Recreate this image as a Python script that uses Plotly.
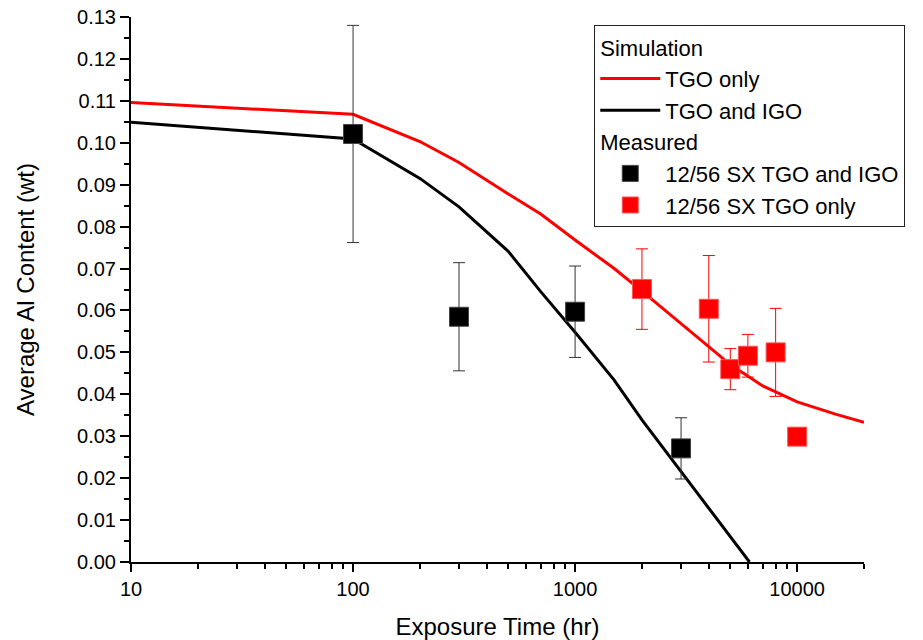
import plotly.graph_objects as go

# Simulated average Al content vs exposure time
sim_time_tgo = [10, 100, 200, 300, 500, 700, 1000, 1500, 2000, 3000, 4000, 5000, 7000, 10000, 15000, 20000]
sim_tgo_only = [0.1096, 0.1068, 0.1003, 0.0953, 0.0878, 0.0830, 0.0768, 0.0700, 0.0646, 0.0568,
                0.0513, 0.0471, 0.0420, 0.0382, 0.0352, 0.0333]

sim_time_igo = [10, 100, 200, 300, 500, 700, 1000, 1500, 2000, 3000, 4000, 5000, 6100]
sim_tgo_igo = [0.1049, 0.1009, 0.0915, 0.0847, 0.0741, 0.0645, 0.0548, 0.0434, 0.0339, 0.0216,
               0.0130, 0.0062, 0.0]

# Measured values with standard deviations
meas_time_igo = [100, 300, 1000, 3000]
meas_igo = [0.1021, 0.0585, 0.0597, 0.0271]
meas_igo_err = [0.0259, 0.0129, 0.0109, 0.0073]

meas_time_tgo = [2000, 4000, 5000, 6000, 8000, 10000]
meas_tgo = [0.0651, 0.0604, 0.0460, 0.0492, 0.0500, 0.0299]
meas_tgo_err = [0.0096, 0.0127, 0.0049, 0.0051, 0.0105, None]

y_ticks = [i / 100 for i in range(0, 14)]
x_ticks = [10, 100, 1000, 10000]

FONT = "Arial, Liberation Sans, sans-serif"
RED = "#ff0000"

fig = go.Figure()

fig.add_trace(go.Scatter(
    x=sim_time_tgo, y=sim_tgo_only, mode="lines", name="TGO only",
    line=dict(color=RED, width=3),
    legendgroup="sim", legendgrouptitle=dict(text="Simulation"),
))
fig.add_trace(go.Scatter(
    x=sim_time_igo, y=sim_tgo_igo, mode="lines", name="TGO and IGO",
    line=dict(color="black", width=3),
    legendgroup="sim",
))
fig.add_trace(go.Scatter(
    x=meas_time_igo, y=meas_igo, mode="markers", name="12/56 SX TGO and IGO",
    marker=dict(symbol="square", size=19, color="black", line=dict(width=1, color="#444")),
    error_y=dict(type="data", array=meas_igo_err, color="#333333", thickness=1, width=6),
    legendgroup="meas", legendgrouptitle=dict(text="Measured"),
))
fig.add_trace(go.Scatter(
    x=meas_time_tgo, y=meas_tgo, mode="markers", name="12/56 SX TGO only",
    marker=dict(symbol="square", size=19, color=RED, line=dict(width=1, color="#ff5555")),
    error_y=dict(type="data", array=meas_tgo_err, color=RED, thickness=1, width=6),
    legendgroup="meas",
))

fig.update_layout(
    width=923, height=640,
    margin=dict(l=131, r=59, t=17, b=78, autoexpand=False),
    paper_bgcolor="white", plot_bgcolor="white",
    font=dict(family=FONT, color="black", size=20),
    showlegend=True,
    legend=dict(
        x=0.632, y=0.985, xanchor="left", yanchor="top",
        bgcolor="white", bordercolor="#222", borderwidth=1,
        font=dict(size=22), grouptitlefont=dict(size=22),
        traceorder="grouped", tracegroupgap=0, itemwidth=60,
    ),
    xaxis=dict(
        type="log", range=[1, 4.30103], automargin=False,
        tickvals=x_ticks, ticktext=[str(v) for v in x_ticks],
        ticks="outside", ticklen=8, tickwidth=2, tickcolor="black",
        showline=True, linewidth=2, linecolor="black",
        showgrid=False, zeroline=False,
        minor=dict(ticks="outside", ticklen=5, tickwidth=1.5, tickcolor="black", dtick="D1", showgrid=False),
        tickfont=dict(size=20),
        title=dict(text="Exposure Time (hr)", font=dict(size=24), standoff=22),
    ),
    yaxis=dict(
        range=[0, 0.13], automargin=False,
        tickvals=y_ticks, tickformat=".2f",
        ticks="outside", ticklen=9, tickwidth=2, tickcolor="black",
        showline=True, linewidth=2, linecolor="black",
        showgrid=False, zeroline=False,
        minor=dict(ticks="outside", ticklen=5, tickwidth=1.5, tickcolor="black", dtick=0.005, showgrid=False),
        tickfont=dict(size=20),
        title=dict(text="Average Al Content (wt)", font=dict(size=24), standoff=36),
    ),
)

fig.write_html("out.html")
